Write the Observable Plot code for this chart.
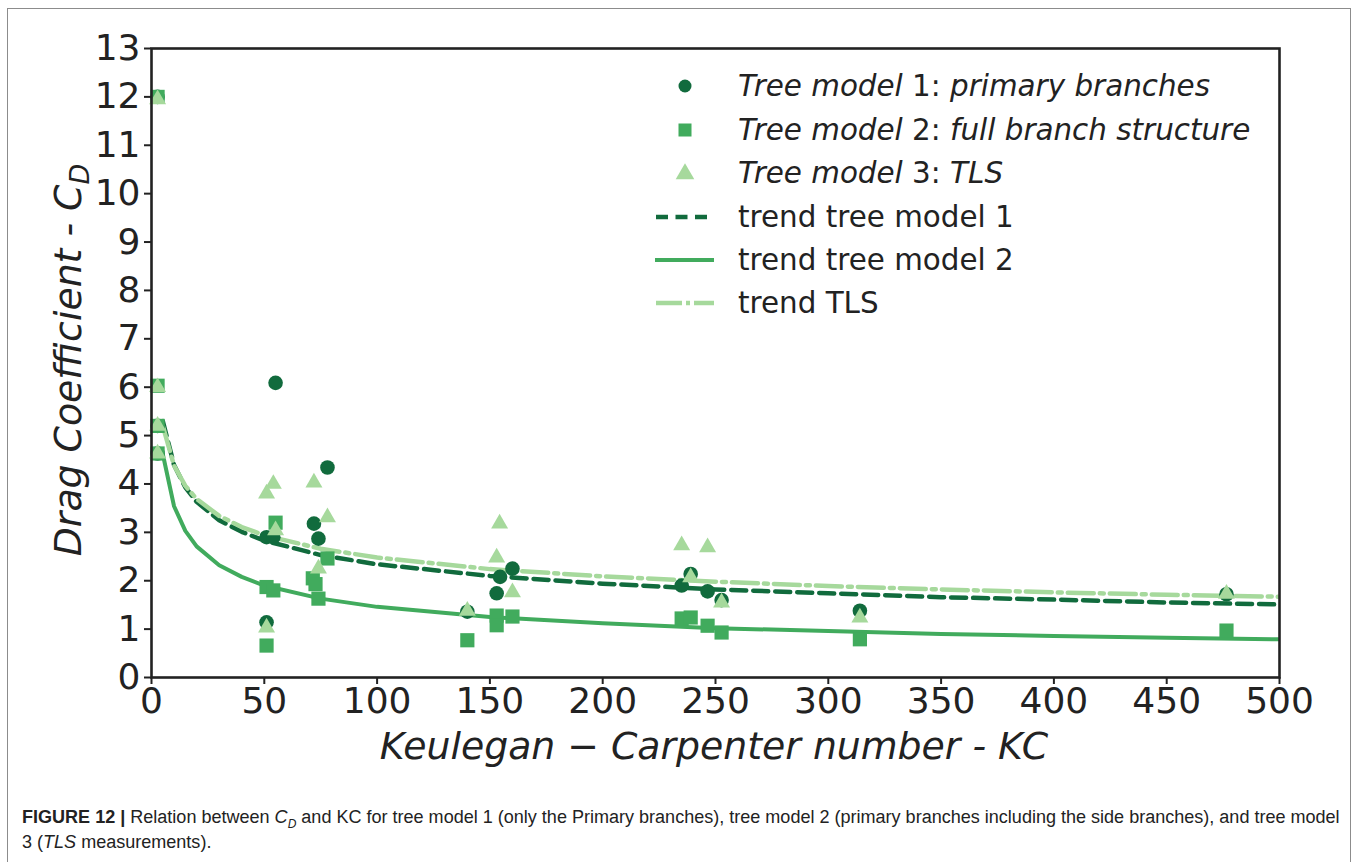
<!DOCTYPE html>
<html><head><meta charset="utf-8">
<script src="https://cdn.jsdelivr.net/npm/d3@7"></script>
<script src="https://cdn.jsdelivr.net/npm/@observablehq/plot@0.6"></script>
<style>
body{margin:0;background:#fff;}
#wrap{position:relative;width:1358px;height:862px;overflow:hidden;background:#fff;}
#frame{position:absolute;left:7px;top:8px;width:1342px;height:900px;border:1px solid #8c8c8c;z-index:5;pointer-events:none;}
#chart{position:absolute;left:0;top:0;}
#caption{position:absolute;left:22px;top:805px;width:1330px;white-space:nowrap;font-family:"Liberation Sans",Arial,sans-serif;font-size:18.05px;line-height:25px;color:#222;}
</style>
</head><body>
<div id="wrap"><div id="frame"></div><div id="chart"></div>
<div id="caption"><b>FIGURE 12 |</b> Relation between <i>C</i><sub style="font-size:12px;font-style:italic;line-height:0">D</sub> and KC for tree model 1 (only the Primary branches), tree model 2 (primary branches including the side branches), and tree model<br>3 (<i>TLS</i> measurements).</div>
</div>
<script>
// Tree model 1: primary branches (circles)
const kc1 = [2.7, 2.7, 2.7, 51, 54, 55, 51, 72, 74, 78, 140, 153, 154.5, 160, 235, 239, 246.5, 252.7, 314, 476.5];
const cd1 = [12, 5.2, 4.63, 2.9, 2.9, 6.09, 1.14, 3.18, 2.87, 4.34, 1.36, 1.74, 2.08, 2.25, 1.9, 2.14, 1.78, 1.6, 1.38, 1.72];
// Tree model 2: full branch structure (squares)
const kc2 = [2.7, 2.7, 2.7, 2.7, 51, 54, 51, 55, 71.5, 72.7, 74, 78, 140, 153, 153, 160, 235, 239, 246.5, 252.7, 314, 476.5];
const cd2 = [12, 6.03, 5.2, 4.63, 1.87, 1.8, 0.66, 3.2, 2.05, 1.93, 1.63, 2.46, 0.77, 1.28, 1.08, 1.26, 1.22, 1.24, 1.07, 0.93, 0.79, 0.97];
// Tree model 3: TLS (triangles)
const kc3 = [2.7, 2.7, 2.7, 2.7, 51, 54, 72, 78, 55, 74, 51, 140, 154.3, 153, 160, 235, 246.5, 239, 252.7, 314, 476.5];
const cd3 = [11.95, 6.0, 5.2, 4.63, 3.8, 4.0, 4.03, 3.31, 3.04, 2.25, 1.03, 1.38, 3.18, 2.48, 1.76, 2.73, 2.69, 2.07, 1.55, 1.24, 1.73];
// Trend lines
const trendKC = [5, 10, 15, 20, 30, 40, 50, 75, 100, 150, 200, 250, 300, 350, 400, 450, 500];
const trend1 = [5.30, 4.39, 3.93, 3.63, 3.25, 3.01, 2.83, 2.53, 2.34, 2.10, 1.94, 1.82, 1.74, 1.66, 1.61, 1.55, 1.51];
const trend2 = [4.62, 3.54, 3.03, 2.71, 2.32, 2.08, 1.90, 1.63, 1.46, 1.25, 1.12, 1.02, 0.96, 0.90, 0.86, 0.82, 0.79];
const trend3 = [5.20, 4.38, 3.96, 3.69, 3.34, 3.11, 2.94, 2.66, 2.48, 2.24, 2.09, 1.98, 1.89, 1.82, 1.76, 1.71, 1.67];
const xTicks = [0, 50, 100, 150, 200, 250, 300, 350, 400, 450, 500];
const yTicks = [0, 1, 2, 3, 4, 5, 6, 7, 8, 9, 10, 11, 12, 13];

const dark = "#116b3d", mid = "#41ab5d", light = "#a6d99c";
const rows = (xs, ys) => xs.map((x, i) => ({kc: x, cd: ys[i]}));

const plot = Plot.plot({
  width: 1358, height: 770,
  marginLeft: 151, marginRight: 79, marginTop: 48, marginBottom: 93,
  x: {domain: [0, 500], label: null},
  y: {domain: [0, 13], label: null},
  style: {fontFamily: "DejaVu Sans", fontSize: "36px", color: "#222", background: "transparent", overflow: "visible"},
  marks: [
    Plot.line(rows(trendKC, trend2), {x: "kc", y: "cd", stroke: mid, strokeWidth: 4, clip: true}),
    Plot.line(rows(trendKC, trend1), {x: "kc", y: "cd", stroke: dark, strokeWidth: 4.5, strokeDasharray: "15,7", clip: true}),
    Plot.line(rows(trendKC, trend3), {x: "kc", y: "cd", stroke: light, strokeWidth: 4.5, strokeDasharray: "26,6,4,6", clip: true}),
    Plot.dot(rows(kc1, cd1), {x: "kc", y: "cd", symbol: "circle", r: 7.3, fill: dark}),
    Plot.dot(rows(kc2, cd2), {x: "kc", y: "cd", symbol: "square", r: 8, fill: mid}),
    Plot.dot(rows(kc3, cd3), {x: "kc", y: "cd", symbol: "triangle", r: 6.3, fill: light}),
    Plot.frame({stroke: "#222", strokeWidth: 2.6}),
    Plot.axisX({ticks: xTicks, tickSize: 7, tickPadding: 3, fontSize: 36, strokeWidth: 2, tickFormat: d => String(d), label: null}),
    Plot.axisY({ticks: yTicks, tickSize: 7, tickPadding: 4, fontSize: 36, strokeWidth: 2, tickFormat: d => String(d), label: null})
  ]
});
document.getElementById("chart").appendChild(plot);

const svg = d3.select(plot);
// axis labels
svg.append("text").attr("x", 714).attr("y", 759).attr("text-anchor", "middle")
  .attr("font-style", "italic").attr("font-size", 37.8).attr("fill", "#222")
  .text("Keulegan \u2212 Carpenter number - KC");
const yl = svg.append("text").attr("transform", "translate(81,360) rotate(-90)").attr("text-anchor", "middle")
  .attr("font-style", "italic").attr("font-size", 37.8).attr("fill", "#222");
yl.append("tspan").text("Drag Coefficient - C");
yl.append("tspan").attr("font-size", 27).attr("dy", 8).text("D");

// legend
const lg = svg.append("g").attr("font-size", 29.4).attr("fill", "#222").attr("text-anchor", "start");
const rowsY = [86, 130, 173, 217, 260, 303];
const mx = 685, tx = 738;
lg.append("circle").attr("cx", mx).attr("cy", rowsY[0]).attr("r", 6.5).attr("fill", dark);
lg.append("rect").attr("x", mx - 6.5).attr("y", rowsY[1] - 6.5).attr("width", 13).attr("height", 13).attr("fill", mid);
lg.append("path").attr("d", d3.symbol(d3.symbolTriangle, 150)()).attr("transform", `translate(${mx},${rowsY[2] + 1})`).attr("fill", light);
lg.append("line").attr("x1", 656).attr("x2", 714).attr("y1", rowsY[3]).attr("y2", rowsY[3]).attr("stroke", dark).attr("stroke-width", 4.5).attr("stroke-dasharray", "12,7.5");
lg.append("line").attr("x1", 655).attr("x2", 714).attr("y1", rowsY[4]).attr("y2", rowsY[4]).attr("stroke", mid).attr("stroke-width", 4);
lg.append("line").attr("x1", 656).attr("x2", 714).attr("y1", rowsY[5]).attr("y2", rowsY[5]).attr("stroke", light).attr("stroke-width", 4.5).attr("stroke-dasharray", "26,4,4,4");
const legendTexts = [
  [["Tree model", 1], [" 1: ", 0], ["primary branches", 1]],
  [["Tree model", 1], [" 2: ", 0], ["full branch structure", 1]],
  [["Tree model", 1], [" 3: ", 0], ["TLS", 1]],
  [["trend tree model 1", 0]],
  [["trend tree model 2", 0]],
  [["trend TLS", 0]]
];
legendTexts.forEach((parts, i) => {
  const t = lg.append("text").attr("x", tx).attr("y", rowsY[i] + 10).style("white-space", "pre");
  parts.forEach(([s, it]) => t.append("tspan").attr("font-style", it ? "italic" : "normal").text(s));
});
</script>
</body></html>
